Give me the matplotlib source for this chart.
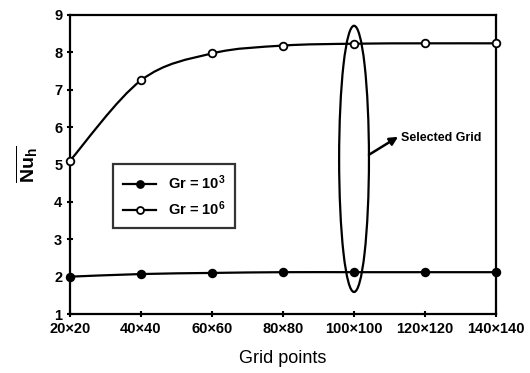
import matplotlib
matplotlib.use('Agg')
import matplotlib.pyplot as plt
import numpy as np
from matplotlib.path import Path
from matplotlib.patches import PathPatch, Ellipse

plt.rcParams['font.family'] = ['Liberation Sans', 'DejaVu Sans']
plt.rcParams['mathtext.fontset'] = 'custom'
plt.rcParams['mathtext.rm'] = 'Liberation Sans:bold'
plt.rcParams['mathtext.it'] = 'Liberation Sans:bold'

grids = ['20×20', '40×40', '60×60', '80×80', '100×100', '120×120', '140×140']
nu_gr3 = [2.00, 2.07, 2.10, 2.12, 2.12, 2.12, 2.12]
nu_gr6 = [5.10, 7.25, 7.97, 8.18, 8.23, 8.24, 8.24]


def smooth_path(x, y):
    # bezier segments like excel's smoothed line
    x = np.asarray(x, float); y = np.asarray(y, float)
    verts = [(x[0], y[0])]
    codes = [Path.MOVETO]
    n = len(x)
    for i in range(n - 1):
        p0 = (x[max(i-1, 0)], y[max(i-1, 0)])
        p1 = (x[i], y[i]); p2 = (x[i+1], y[i+1])
        p3 = (x[min(i+2, n-1)], y[min(i+2, n-1)])
        c1 = (p1[0] + (p2[0]-p0[0])/6, p1[1] + (p2[1]-p0[1])/6)
        c2 = (p2[0] - (p3[0]-p1[0])/6, p2[1] - (p3[1]-p1[1])/6)
        verts += [c1, c2, p2]
        codes += [Path.CURVE4]*3
    return Path(verts, codes)


fig = plt.figure(figsize=(5.3, 3.73), dpi=100)
ax = fig.add_axes([0.132, 0.158, 0.804, 0.802])
xs = np.arange(len(grids))

for vals, fc in [(nu_gr3, 'black'), (nu_gr6, 'white')]:
    ax.add_patch(PathPatch(smooth_path(xs, vals), fill=False, lw=1.6, color='black', zorder=2))
    ax.plot(xs, vals, ls='none', color='black', marker='o', ms=5.5,
            mfc=fc, mec='black', mew=1.3, zorder=3, clip_on=False)

# legend with lines
h = [plt.Line2D([], [], color='black', lw=1.6, marker='o', ms=5, mfc=fc, mec='black', mew=1.3)
     for fc in ['black', 'white']]
leg = ax.legend(h, ['Gr = 10$^3$', 'Gr = 10$^6$'], loc='upper left', bbox_to_anchor=(0.085, 0.525),
                frameon=True, fancybox=False, edgecolor='black', handlelength=2.3,
                prop={'size': 10.5, 'weight': 'bold'}, borderpad=0.65, labelspacing=0.5)
leg.get_frame().set_linewidth(1.6)

ax.add_patch(Ellipse((4, 5.15), 0.42, 7.12, fill=False, lw=1.6, color='black', zorder=4))
ax.annotate('', xy=(4.62, 5.74), xytext=(4.21, 5.26),
            arrowprops=dict(arrowstyle='-|>', lw=1.8, color='black', mutation_scale=12,
                            shrinkA=0, shrinkB=0))
ax.text(4.66, 5.72, 'Selected Grid', fontsize=9, weight='bold', va='center')

ax.set_xlim(0, 6)
ax.set_ylim(1, 9)
ax.set_xticks(xs)
ax.set_xticklabels(grids)
ax.set_yticks(range(1, 10))
ax.tick_params(axis='both', labelsize=10.5, width=1.5, length=4, direction='inout')
for t in ax.get_xticklabels() + ax.get_yticklabels():
    t.set_fontweight('bold')
for s in ax.spines.values():
    s.set_linewidth(1.6)
ax.set_xlabel('Grid points', fontsize=13, labelpad=10)
ax.set_ylabel(r'$\overline{\mathrm{Nu}_h}$', fontsize=14, labelpad=10)

fig.savefig('out.png', dpi=100)
